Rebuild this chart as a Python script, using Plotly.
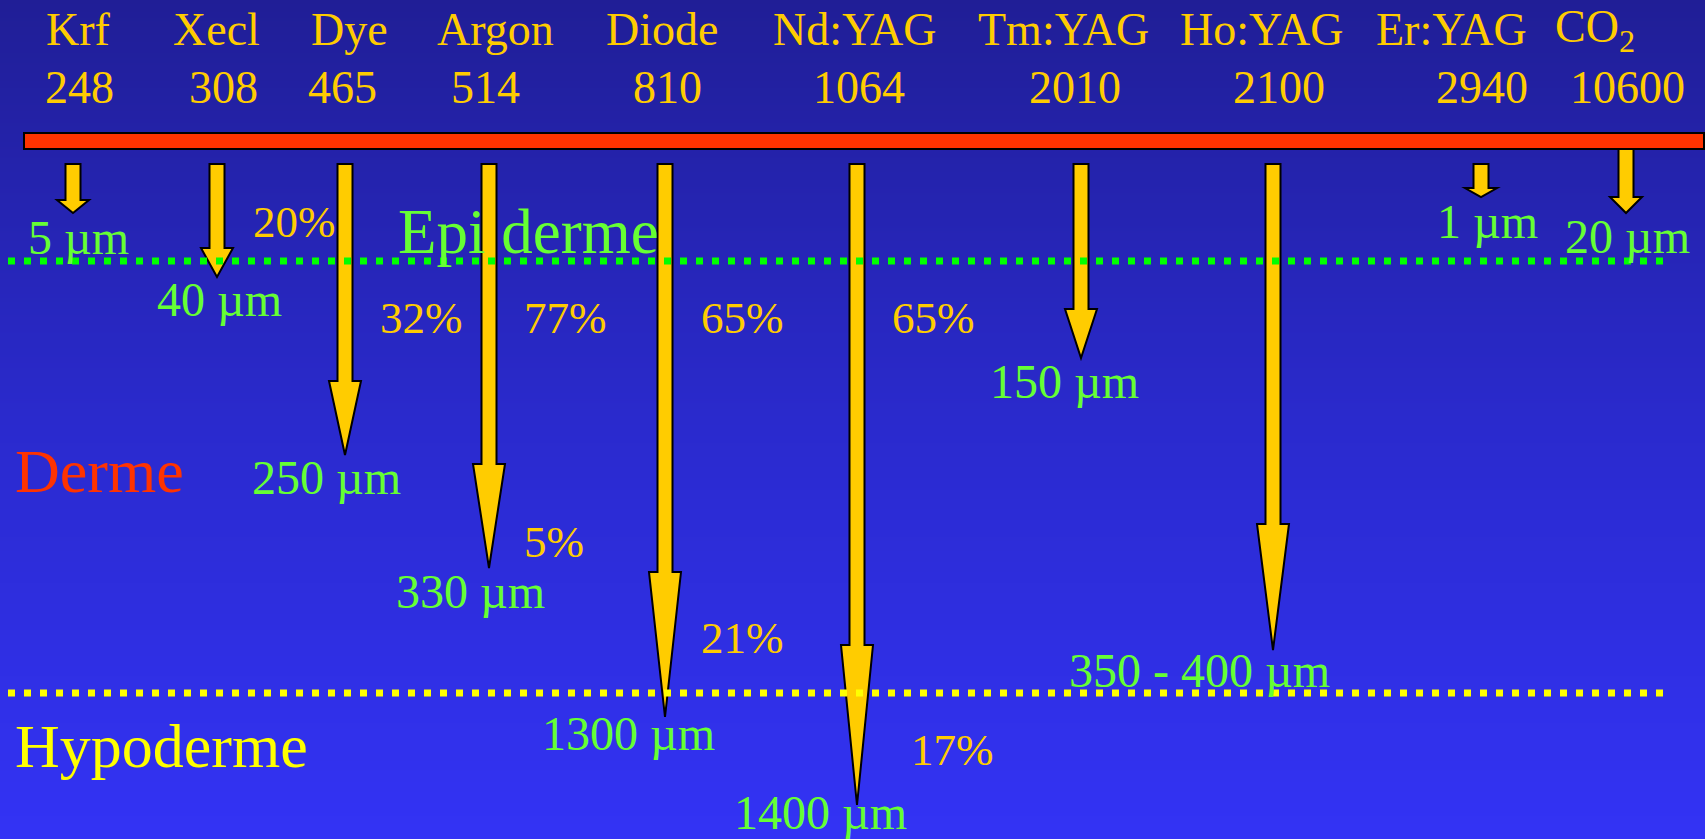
import plotly.graph_objects as go

# ---- data -------------------------------------------------------------
lasers = ["Krf", "Xecl", "Dye", "Argon", "Diode", "Nd:YAG",
          "Tm:YAG", "Ho:YAG", "Er:YAG", "CO<sub>2</sub>"]
wavelengths_nm = [248, 308, 465, 514, 810, 1064, 2010, 2100, 2940, 10600]
depth_labels = ["5 µm", "40 µm", "250 µm", "330 µm", "1300 µm", "1400 µm",
                "150 µm", "350 - 400 µm", "1 µm", "20 µm"]
percent_labels = ["20%", "32%", "77%", "65%", "65%", "5%", "21%", "17%"]
layer_names = ["Epi derme", "Derme", "Hypoderme"]

# ---- layout of the schematic (canvas units, y grows downward) --------
W, H = 1705, 839
name_x = [78, 216, 349, 495, 662, 855, 1063, 1262, 1451, 1595]
wl_x = [79, 223, 342, 485, 667, 859, 1075, 1279, 1482, 1627]
name_y, wl_y = 29.5, 87.5

arrow_x = [73, 217, 345, 489, 665, 857, 1081, 1273, 1481, 1626]
arrow_top = [164, 164, 164, 164, 164, 164, 164, 164, 164, 149]
arrow_head = [200, 248, 381, 464, 572, 645, 309, 524, 188, 197]
arrow_tip = [213, 277, 455, 568, 717, 805, 358, 650, 197, 213]
SHAFT_W, HEAD_W = 15, 32

depth_x = [78, 219, 326, 470, 628, 820, 1064, 1199, 1487, 1627]
depth_y = [237, 299, 477, 591, 733, 812, 381, 670, 221, 236]

pct_x = [294, 421, 565, 742, 933, 554, 742, 952]
pct_y = [222, 318, 318, 318, 318, 542, 638, 750]

layer_x = [396, 13, 13]
layer_y = [232, 471, 746]
layer_sizes = [63, 62, 62]
layer_colors = ["#66FF33", "#FF3300", "#FFFF00"]

bar_x0, bar_x1, bar_y0, bar_y1 = 24, 1704, 133, 149
epi_line_y, hypo_line_y = 261, 693
line_x0, line_x1 = 8, 1666

FONT = "Liberation Serif, Times New Roman, serif"
GOLD = "#FFCC00"
GREEN_TXT = "#66FF33"

fig = go.Figure()

# vertical blue gradient background
fig.add_trace(go.Heatmap(
    z=[[0, 0], [1, 1]], x=[0, W], y=[0, H],
    colorscale=[[0, "rgb(32,30,150)"], [0.5, "rgb(42,42,205)"],
                [1, "rgb(51,51,245)"]],
    zsmooth="best", showscale=False, hoverinfo="skip",
))

shapes = []
# wavelength bar
shapes.append(dict(type="rect", x0=bar_x0, x1=bar_x1, y0=bar_y0, y1=bar_y1,
                   fillcolor="#FF3300", line=dict(color="black", width=2),
                   layer="above"))

# penetration arrows
for x, t, h, tip in zip(arrow_x, arrow_top, arrow_head, arrow_tip):
    s, w = SHAFT_W / 2, HEAD_W / 2
    path = (f"M {x - s},{t} L {x + s},{t} L {x + s},{h} L {x + w},{h} "
            f"L {x},{tip} L {x - w},{h} L {x - s},{h} Z")
    shapes.append(dict(type="path", path=path, fillcolor=GOLD,
                       line=dict(color="black", width=2), layer="above"))

# skin layer boundaries
for y, col in [(epi_line_y, "#00FF00"), (hypo_line_y, "#FFFF00")]:
    shapes.append(dict(type="line", x0=line_x0, x1=line_x1, y0=y, y1=y,
                       line=dict(color=col, width=7, dash="7px,9px"),
                       layer="above"))

ann = []


def label(text, x, y, size, color, xanchor="center"):
    ann.append(dict(text=text, x=x, y=y, xref="x", yref="y",
                    xanchor=xanchor, yanchor="middle", showarrow=False,
                    font=dict(family=FONT, size=size, color=color)))


for n, x in zip(lasers, name_x):
    label(n, x, name_y, 46, GOLD)
for wl, x in zip(wavelengths_nm, wl_x):
    label(str(wl), x, wl_y, 46, GOLD)
for d, x, y in zip(depth_labels, depth_x, depth_y):
    label(d, x, y, 48, GREEN_TXT)
for p, x, y in zip(percent_labels, pct_x, pct_y):
    label(p, x, y, 45, GOLD)
for n, x, y, sz, c in zip(layer_names, layer_x, layer_y, layer_sizes,
                          layer_colors):
    label(n, x, y, sz, c, xanchor="left")

fig.update_layout(
    width=W, height=H,
    margin=dict(l=0, r=0, t=0, b=0),
    paper_bgcolor="rgb(32,30,150)", plot_bgcolor="rgb(32,30,150)",
    xaxis=dict(range=[0, W], visible=False, fixedrange=True),
    yaxis=dict(range=[H, 0], visible=False, fixedrange=True),
    shapes=shapes, annotations=ann, showlegend=False,
)

fig.write_html("out.html", config={"displayModeBar": False})
